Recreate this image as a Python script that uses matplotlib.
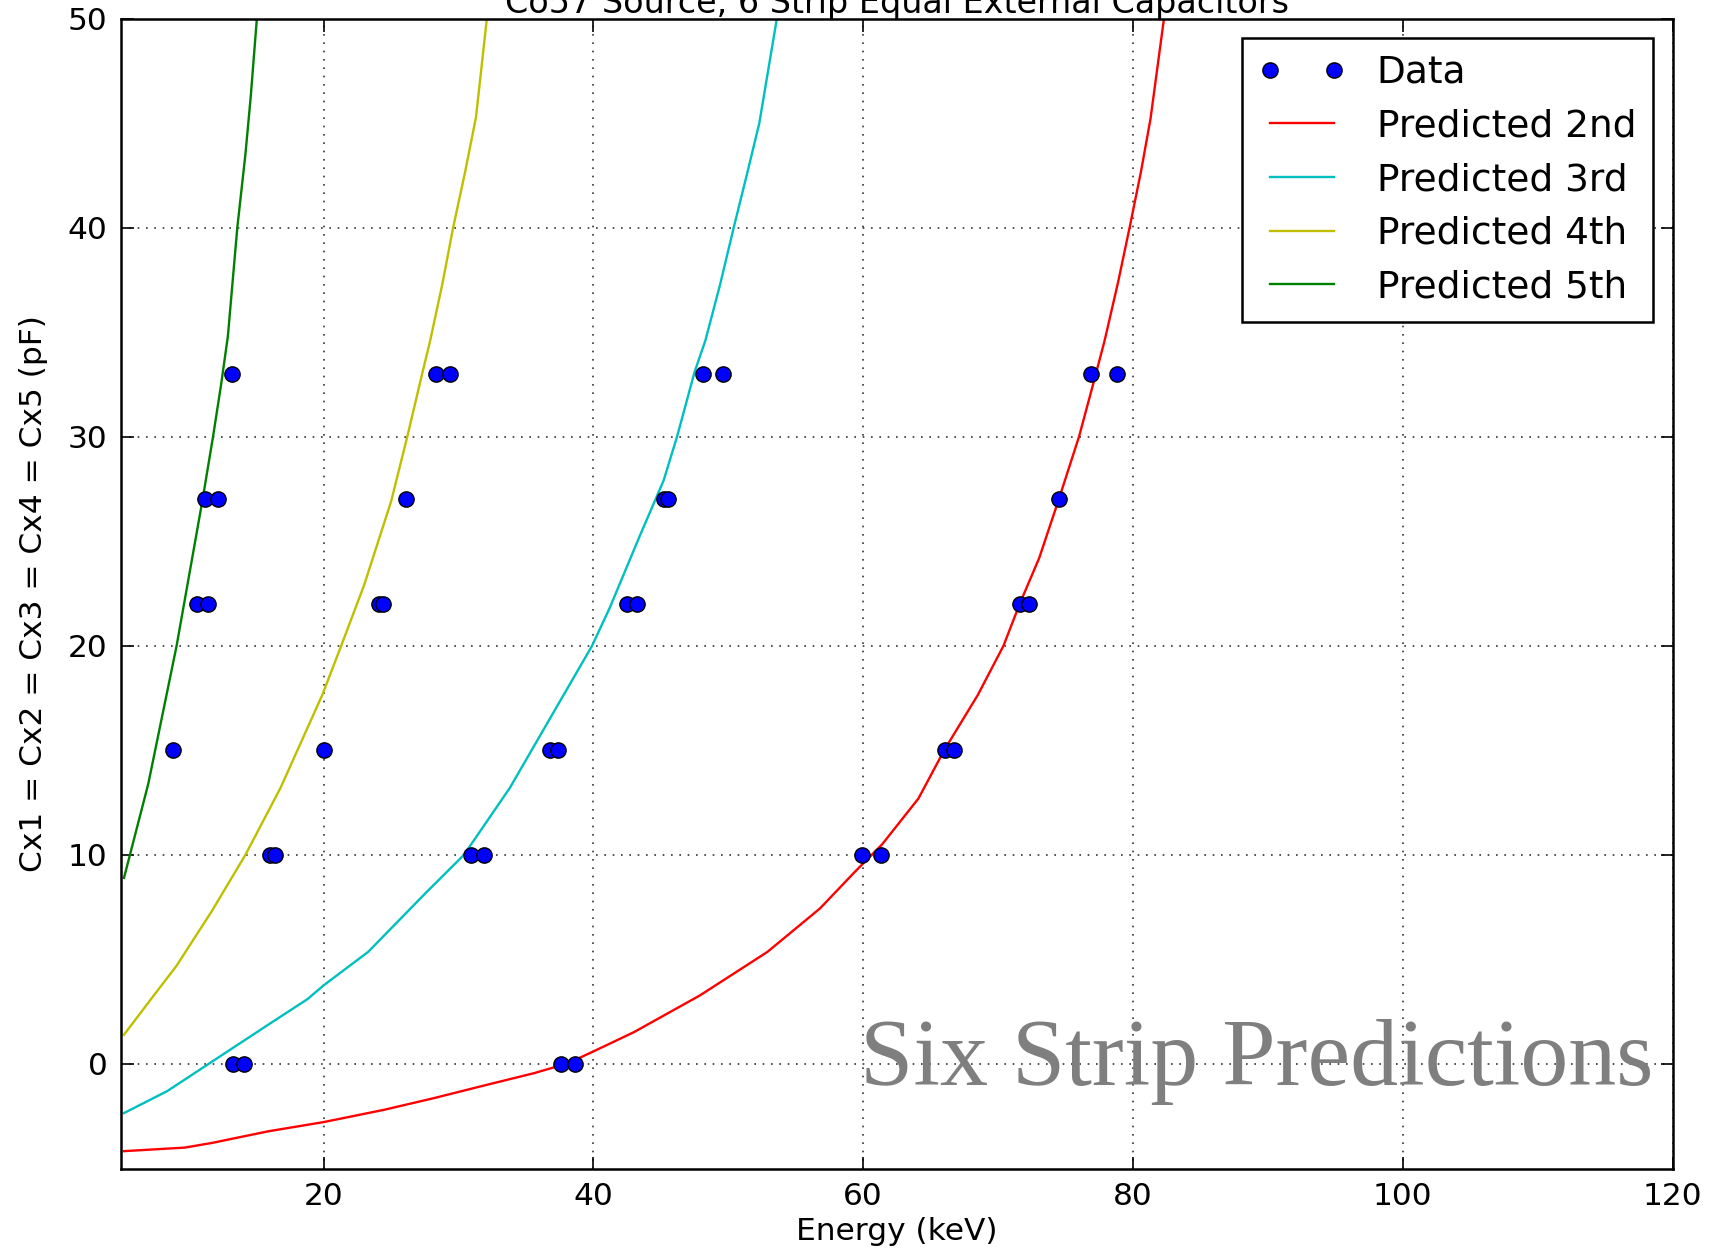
import matplotlib
matplotlib.use("Agg")
import matplotlib.pyplot as plt

# ---------------- data ----------------
data_energy = [13.2, 28.3, 29.4, 48.1, 49.6, 76.9, 78.8,
               11.2, 12.2, 26.1, 45.2, 45.5, 74.5,
               10.6, 11.4, 24.1, 24.4, 42.5, 43.2, 71.6, 72.3,
               8.8, 20.0, 36.8, 37.4, 66.1, 66.7,
               16.0, 16.4, 30.9, 31.9, 59.9, 61.3,
               13.3, 14.1, 37.6, 38.6]
data_cap = [33, 33, 33, 33, 33, 33, 33,
            27, 27, 27, 27, 27, 27,
            22, 22, 22, 22, 22, 22, 22, 22,
            15, 15, 15, 15, 15, 15,
            10, 10, 10, 10, 10, 10,
            0, 0, 0, 0]

pred2_energy = [5.2, 9.7, 11.7, 15.9, 20.0, 24.5, 28.2, 31.9, 35.6, 38.1, 40.0,
                43.0, 47.9, 52.9, 56.8, 59.4, 61.4, 64.1, 66.0, 68.5, 70.4, 71.6,
                73.05, 74.5, 76.0, 77.0, 77.9, 78.9, 79.75, 80.6, 81.3, 82.3]
pred2_cap = [-4.17, -4.0, -3.78, -3.22, -2.78, -2.19, -1.63, -1.03, -0.44, 0.03, 0.6,
             1.52, 3.28, 5.36, 7.44, 9.2, 10.5, 12.7, 15.0, 17.65, 20.0, 22.0,
             24.2, 27.0, 30.0, 32.4, 34.6, 37.4, 40.0, 42.7, 45.2, 50.0]

pred3_energy = [5.2, 8.4, 11.7, 15.85, 18.8, 20.0, 23.3, 27.6, 30.4, 33.8, 36.4,
                39.9, 41.2, 43.4, 45.2, 46.2, 47.5, 48.3, 49.4, 50.4, 51.4, 52.3, 53.6]
pred3_cap = [-2.35, -1.3, 0.1, 1.86, 3.1, 3.76, 5.36, 8.2, 10.0, 13.2, 16.1,
             20.0, 21.8, 25.2, 27.9, 30.0, 33.1, 34.6, 37.3, 40.0, 42.6, 45.0, 50.0]

pred4_energy = [5.2, 7.2, 9.1, 11.7, 14.2, 16.8, 19.9, 21.3, 23.0, 25.0, 26.2,
                27.3, 27.9, 28.8, 29.6, 30.5, 31.3, 32.1]
pred4_cap = [1.4, 3.1, 4.7, 7.3, 10.0, 13.2, 17.65, 20.0, 22.9, 26.9, 30.0,
             33.0, 34.6, 37.3, 40.0, 42.7, 45.3, 50.0]

pred5_energy = [5.2, 7.0, 9.1, 11.0, 11.8, 12.4, 12.9, 13.6, 14.2, 14.6, 15.05]
pred5_cap = [8.9, 13.4, 20.0, 26.9, 30.0, 32.5, 34.8, 40.0, 43.5, 46.3, 50.0]

x_ticks = [20, 40, 60, 80, 100, 120]
y_ticks = [0, 10, 20, 30, 40, 50]

title = "Co57 Source, 6 Strip Equal External Capacitors"
xlabel = "Energy (keV)"
ylabel = "Cx1 = Cx2 = Cx3 = Cx4 = Cx5 (pF)"
watermark = "Six Strip Predictions"

# ---------------- figure ----------------
W, H = 1714, 1256
fig = plt.figure(figsize=(W / 100, H / 100), dpi=100)
ax = fig.add_axes([121.3 / W, 1 - 1168.5 / H, (1672.5 - 121.3) / W, (1168.5 - 18.6) / H])

fs = 22.5
ax.plot(data_energy, data_cap, linestyle="none", marker="o", color="#0000ff",
        markeredgecolor="k", markeredgewidth=1.0, markersize=11, label="Data", zorder=5)
ax.plot(pred2_energy, pred2_cap, color="#ff0000", lw=1.7, label="Predicted 2nd")
ax.plot(pred3_energy, pred3_cap, color="#00bfbf", lw=1.7, label="Predicted 3rd")
ax.plot(pred4_energy, pred4_cap, color="#bfbf00", lw=1.7, label="Predicted 4th")
ax.plot(pred5_energy, pred5_cap, color="#008000", lw=1.7, label="Predicted 5th")

ax.set_xlim(5, 120)
ax.set_ylim(-5, 50)
ax.set_xticks(x_ticks)
ax.set_yticks(y_ticks)
ax.tick_params(direction="in", length=9, width=1.2, labelsize=fs,
               top=True, right=True, pad=10)
ax.grid(True, color="k", linestyle=(0, (1, 4)), linewidth=1.2, alpha=0.8)
for s in ax.spines.values():
    s.set_linewidth(1.8)

ax.set_xlabel(xlabel, fontsize=fs, labelpad=4)
ax.set_ylabel(ylabel, fontsize=fs, labelpad=14)
ax.set_title(title, fontsize=24, pad=4)

leg = ax.legend(loc="upper right", bbox_to_anchor=(1653 / W, 1 - 38 / H),
                bbox_transform=fig.transFigure, borderaxespad=0,
                numpoints=2, fontsize=27, fancybox=False, framealpha=1,
                handlelength=2.3, handletextpad=0.85, labelspacing=0.47,
                borderpad=0.45)
leg.get_frame().set_edgecolor("k")
leg.get_frame().set_linewidth(1.8)

fig.text(1653 / W, 1 - 1085 / H, watermark, ha="right", va="baseline",
         fontsize=69, color="#7f7f7f", family="Liberation Serif")

fig.savefig("out.png", dpi=100)
